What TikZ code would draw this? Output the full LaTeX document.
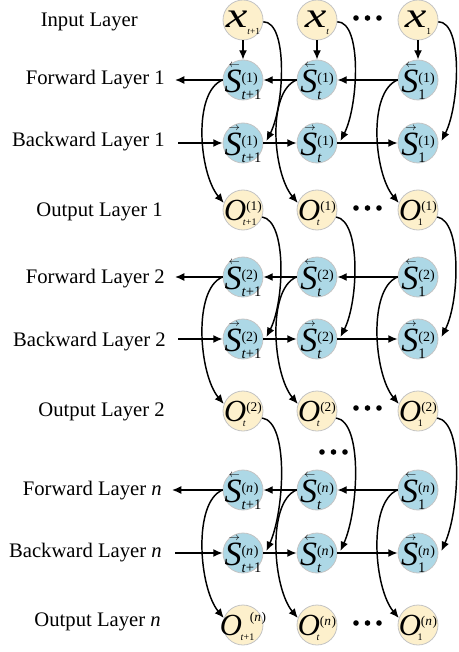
\documentclass[tikz,border=0pt]{standalone}
\usepackage{fontspec}
\setmainfont{Liberation Serif}
\usepackage{graphicx}
\usetikzlibrary{arrows.meta,calc}

\definecolor{creamc}{HTML}{FDF0CC}
\definecolor{bluec}{HTML}{ADD8E6}
\definecolor{bordc}{HTML}{C4C4C4}

\newlength\supw \newlength\subw
% #1 sup kern, #2 sup, #3 sup raise, #4 sub kern, #5 sub, #6 sub lower
\newcommand{\SupSub}[6]{%
 \settowidth\supw{\hspace{#1}#2}\settowidth\subw{\hspace{#4}#5}%
 \ifdim\supw<\subw \setlength\supw{\subw}\fi
 \rlap{\hspace{#1}\raisebox{#3}{#2}}\rlap{\hspace{#4}\raisebox{-#6}{#5}}\hspace{\supw}}

\newcommand\fbig{\fontsize{25.5}{25.5}\selectfont\itshape}
\newcommand\fsup{\fontsize{10.5}{11}\selectfont\upshape}
\newcommand\fsub{\fontsize{11}{11}\selectfont\upshape}
\newcommand\fO{\fontsize{23}{23}\selectfont\itshape}
\newcommand\fOsup{\fontsize{10}{10}\selectfont\upshape}
\newcommand\fOsub{\fontsize{7.5}{7.5}\selectfont\upshape}
\newcommand\fx{\fontsize{27}{27}\selectfont\itshape}
\newcommand\fxsub{\fontsize{7}{7}\selectfont\upshape}

\newcommand{\Sv}[3]{\makebox[0pt]{\raisebox{-9.5pt}[0pt][0pt]{%
 \rlap{\hspace{3pt}\raisebox{19pt}{\fontsize{8}{8}\selectfont$#1$}}%
 {\fbig S}\SupSub{0pt}{\fsup #2}{7.5pt}{0pt}{\fsub #3}{5pt}}}}
\newcommand{\On}[2]{\makebox[0pt]{\raisebox{-7.5pt}[0pt][0pt]{%
 {\fO O}\SupSub{0pt}{\fOsup #1}{7.5pt}{-2.5pt}{\fOsub #2}{3.75pt}}}}
\newcommand{\Xn}[1]{\makebox[0pt]{\raisebox{-6pt}[0pt][0pt]{%
 {\fx\scalebox{1.35}[1]{x}}\raisebox{-5pt}{\fxsub #1}}}}
\newcommand{\tP}{\textit{t}+1}
\newcommand{\tT}{\textit{t}}

\tikzset{
 inp/.style={circle, minimum size=30pt, inner sep=0pt, fill=creamc, draw=bordc, line width=0.6pt},
 hid/.style={inp, fill=bluec},
 lbl/.style={anchor=east, font=\fontsize{15.5}{16}\selectfont, inner sep=0pt},
 con/.style={-{Latex[length=7pt,width=6pt]}, line width=1.1pt},
 dotc/.style={fill=black},
}

\begin{document}
\begin{tikzpicture}[x=0.75pt,y=-0.75pt]
\useasboundingbox (0,0) rectangle (458,652);

% labels
\node[lbl] (tin) at (138,22) {Input Layer};
\node[lbl] (tf1) at (165,80) {Forward Layer 1};
\node[lbl] (tb1) at (165,142) {Backward Layer 1};
\node[lbl] (to1) at (163,212) {Output Layer 1};
\node[lbl] (tf2) at (165,279) {Forward Layer 2};
\node[lbl] (tb2) at (166,342) {Backward Layer 2};
\node[lbl] (to2) at (165,412) {Output Layer 2};
\node[lbl] (tfn) at (162,491) {Forward Layer \textit{n}};
\node[lbl] (tbn) at (162,553) {Backward Layer \textit{n}};
\node[lbl] (ton) at (161,622) {Output Layer \textit{n}};

% input layer
\node[inp] (xA) at (243,20) {\Xn{\tP}};
\node[inp] (xB) at (317,20) {\Xn{\tT}};
\node[inp] (xC) at (418,20) {\Xn{1}};
% layer 1
\node[hid] (f1A) at (243,80) {\Sv{\leftarrow}{(1)}{\tP}};
\node[hid] (f1B) at (317,80) {\Sv{\leftarrow}{(1)}{\tT}};
\node[hid] (f1C) at (418,80) {\Sv{\leftarrow}{(1)}{1}};
\node[hid] (b1A) at (243,143) {\Sv{\rightarrow}{(1)}{\tP}};
\node[hid] (b1B) at (317,143) {\Sv{\rightarrow}{(1)}{\tT}};
\node[hid] (b1C) at (418,143) {\Sv{\rightarrow}{(1)}{1}};
\node[inp] (o1A) at (243,210) {\On{(1)}{\tP}};
\node[inp] (o1B) at (317,210) {\On{(1)}{\tT}};
\node[inp] (o1C) at (418,210) {\On{(1)}{1}};
% layer 2
\node[hid] (f2A) at (243,277) {\Sv{\leftarrow}{(2)}{\tP}};
\node[hid] (f2B) at (317,277) {\Sv{\leftarrow}{(2)}{\tT}};
\node[hid] (f2C) at (418,277) {\Sv{\leftarrow}{(2)}{1}};
\node[hid] (b2A) at (243,339) {\Sv{\rightarrow}{(2)}{\tP}};
\node[hid] (b2B) at (317,339) {\Sv{\rightarrow}{(2)}{\tT}};
\node[hid] (b2C) at (418,339) {\Sv{\rightarrow}{(2)}{1}};
\node[inp] (o2A) at (243,411) {\On{(2)}{\tT}};
\node[inp] (o2B) at (317,411) {\On{(2)}{\tT}};
\node[inp] (o2C) at (418,411) {\On{(2)}{1}};
% layer n
\node[hid] (fnA) at (243,490) {\Sv{\leftarrow}{(\textit{n}\kern0.5pt)}{\tP}};
\node[hid] (fnB) at (317,490) {\Sv{\leftarrow}{(\textit{n}\kern0.5pt)}{\tT}};
\node[hid] (fnC) at (418,490) {\Sv{\leftarrow}{(\textit{n}\kern0.5pt)}{1}};
\node[hid] (bnA) at (243,553) {\Sv{\rightarrow}{(\textit{n}\kern0.5pt)}{\tP}};
\node[hid] (bnB) at (317,553) {\Sv{\leftarrow}{(\textit{n}\kern0.5pt)}{\tT}};
\node[hid] (bnC) at (418,553) {\Sv{\rightarrow}{(\textit{n}\kern0.5pt)}{1}};
\node[inp] (onA) at (243,625) {\makebox[0pt]{\raisebox{-7.5pt}[0pt][0pt]{%
 {\fO O}\SupSub{6pt}{\fOsup(\textit{n}\kern0.5pt)}{10pt}{-1pt}{\fOsub\tP}{3.75pt}}}};
\node[inp] (onB) at (317,625) {\On{(\textit{n}\kern0.5pt)}{\tT}};
\node[inp] (onC) at (418,625) {\On{(\textit{n}\kern0.5pt)}{1}};

% dots
\foreach \yy in {18,208,408,623}
  \foreach \dx in {0,11.5,23} \fill[dotc] (356+\dx,\yy) circle (2.1pt);
\foreach \dx in {0,11.5,23} \fill[dotc] (322+\dx,452) circle (2.1pt);

% side coordinates
\coordinate (lf1) at (175,80);
\coordinate (lb1) at (178,143);
\coordinate (lf2) at (175,277);
\coordinate (lb2) at (178,339);
\coordinate (lfn) at (172,490);
\coordinate (lbn) at (175,553);

% input -> forward 1
\foreach \c in {A,B,C} \draw[con] (x\c.south) -- (f1\c.north);

% input/output -> next backward (right curves)
\foreach \c in {A,B,C} {
  \draw[con] (x\c.-5) .. controls +(25,0) and +(18,-35) .. ([shift={(3,-2)}]b1\c.east);
  \draw[con] (o1\c.-20) .. controls +(25,4) and +(18,-35) .. ([shift={(3,-2)}]b2\c.east);
  \draw[con] (o2\c.-20) .. controls +(27,4) and +(18,-40) .. ([shift={(3,-2)}]bn\c.east);
}

% forward -> output (left curves)
\foreach \c in {A,B,C} {
  \draw[con] (f1\c.west) .. controls +(-30,12) and +(-25,-30) .. (o1\c.160);
  \draw[con] (f2\c.west) .. controls +(-30,12) and +(-25,-30) .. (o2\c.160);
  \draw[con] (fn\c.west) .. controls +(-30,12) and +(-25,-30) .. (on\c.160);
}

% forward rows (right to left), backward rows (left to right)
\foreach \L in {1,2,n} {
  \draw[con] (f\L C.west) -- (f\L B.east);
  \draw[con] (f\L B.west) -- (f\L A.east);
  \draw[con] (f\L A.west) -- (lf\L);
  \draw[con] (lb\L) -- (b\L A.west);
  \draw[con] (b\L A.east) -- (b\L B.west);
  \draw[con] (b\L B.east) -- (b\L C.west);
}
\end{tikzpicture}
\end{document}
